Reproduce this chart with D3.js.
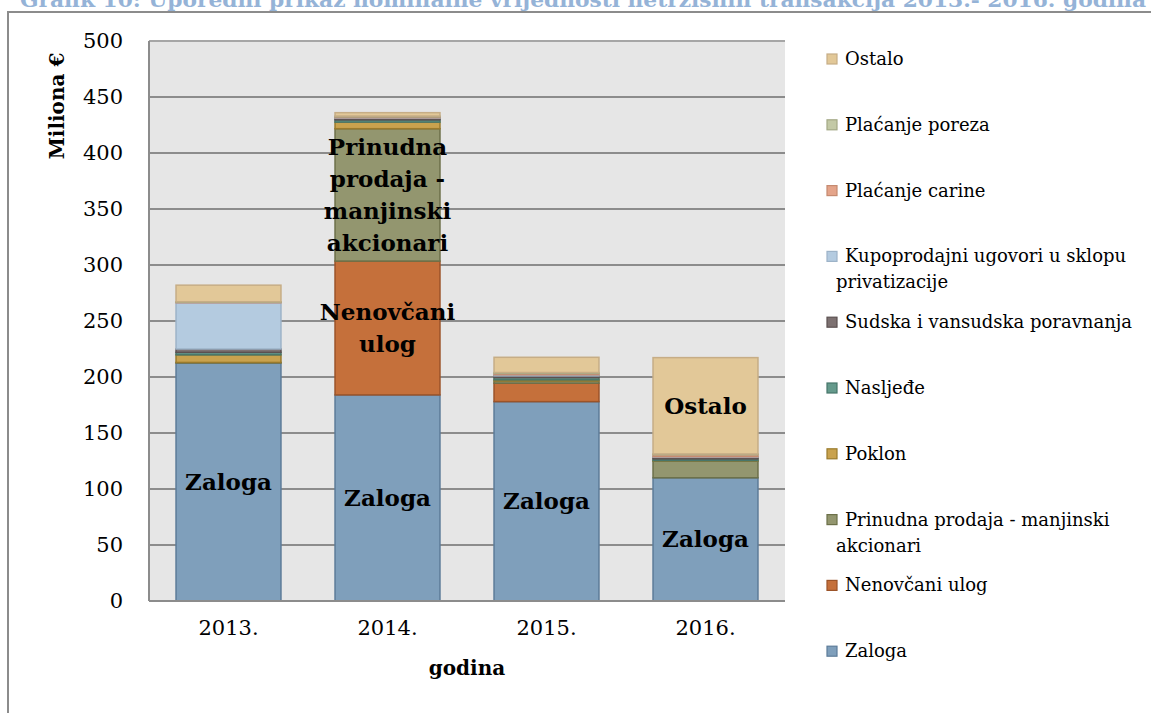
<!DOCTYPE html>
<html>
<head>
<meta charset="utf-8">
<script src="https://cdn.jsdelivr.net/npm/d3@7"></script>
<style>
  body { margin: 0; background: #fff; }
  svg { display: block; font-family: "DejaVu Serif", serif; }
</style>
</head>
<body>
<div id="chartContainer"></div>
<script>
// values in millions of euro
var years = ["2013.", "2014.", "2015.", "2016."];
var zaloga       = [212.5, 184, 178, 110];
var nenovcani    = [0, 119.5, 16.5, 0];
var prinudna     = [0.5, 118.2, 2, 14.8];
var poklon       = [6.8, 5.9, 1, 0.5];
var nasljedje    = [2.2, 2, 2, 1.6];
var sudska       = [3, 1.5, 1.5, 1.5];
var kupoprodajni = [41.3, 0.4, 1, 0.4];
var carine       = [0.5, 0.8, 1.2, 1.8];
var poreza       = [0.4, 0.7, 0.8, 0.7];
var ostalo       = [14.8, 3, 13.6, 86];

var seriesNames = ["Zaloga", "Nenovčani ulog", "Prinudna prodaja - manjinski akcionari", "Poklon",
  "Nasljeđe", "Sudska i vansudska poravnanja", "Kupoprodajni ugovori u sklopu privatizacije",
  "Plaćanje carine", "Plaćanje poreza", "Ostalo"];
var seriesValues = [zaloga, nenovcani, prinudna, poklon, nasljedje, sudska, kupoprodajni, carine, poreza, ostalo];
var legendLines = [["Zaloga"], ["Nenovčani ulog"], ["Prinudna prodaja - manjinski", "akcionari"], ["Poklon"],
  ["Nasljeđe"], ["Sudska i vansudska poravnanja"], ["Kupoprodajni ugovori u sklopu", "privatizacije"],
  ["Plaćanje carine"], ["Plaćanje poreza"], ["Ostalo"]];
var fills   = ["#7f9fbb", "#c5703b", "#93966f", "#c9a24e", "#659a8c", "#7d7171", "#b4cbe0", "#e4a48a", "#c3c9a6", "#e2c898"];
var strokes = ["#5d7c99", "#9b5328", "#6c7049", "#9a7a2c", "#47766a", "#5b5050", "#9db3c8", "#c58a70", "#a3a985", "#c6ad86"];
var yTicks = [0, 50, 100, 150, 200, 250, 300, 350, 400, 450, 500];

// labels written inside the bars
var barLabels = [
  { year: "2013.", key: "Zaloga", lines: ["Zaloga"] },
  { year: "2014.", key: "Zaloga", lines: ["Zaloga"] },
  { year: "2014.", key: "Nenovčani ulog", lines: ["Nenovčani", "ulog"] },
  { year: "2014.", key: "Prinudna prodaja - manjinski akcionari", lines: ["Prinudna", "prodaja -", "manjinski", "akcionari"] },
  { year: "2015.", key: "Zaloga", lines: ["Zaloga"] },
  { year: "2016.", key: "Zaloga", lines: ["Zaloga"] },
  { year: "2016.", key: "Ostalo", lines: ["Ostalo"] }
];

var title = "Grafik 10: Uporedni prikaz nominalne vrijednosti netržišnih transakcija 2013.- 2016. godina";

var WIDTH = 1151, HEIGHT = 713,
  MARGINS = { top: 41, left: 149, right: 366, bottom: 112 };

var svg = d3.select("#chartContainer").append("svg")
  .attr("width", WIDTH)
  .attr("height", HEIGHT);

svg.append("rect").attr("width", WIDTH).attr("height", HEIGHT).attr("fill", "#fff");

// title, cut off at the top of the page as in the source document
svg.append("text")
  .attr("x", 20).attr("y", 7)
  .attr("textLength", 1126)
  .attr("lengthAdjust", "spacingAndGlyphs")
  .style("font-weight", "bold")
  .style("font-size", "20px")
  .style("fill", "#95b3d7")
  .text(title);

// outer frame
svg.append("path")
  .attr("d", "M8," + HEIGHT + "V12H" + WIDTH)
  .attr("fill", "none")
  .attr("stroke", "#8c8c8c")
  .attr("stroke-width", 2);

var rows = years.map(function (y, i) {
  var r = { year: y };
  seriesNames.forEach(function (n, j) { r[n] = seriesValues[j][i]; });
  return r;
});

var xRange = d3.scaleBand().domain(years)
  .range([MARGINS.left, WIDTH - MARGINS.right])
  .paddingInner(0.34).paddingOuter(0.17);
var yRange = d3.scaleLinear().domain([0, 500])
  .range([HEIGHT - MARGINS.bottom, MARGINS.top]);

// plot area
svg.append("rect")
  .attr("x", MARGINS.left).attr("y", yRange(500))
  .attr("width", WIDTH - MARGINS.right - MARGINS.left)
  .attr("height", yRange(0) - yRange(500))
  .attr("fill", "#e6e6e6");

svg.append("g").selectAll("line").data(yTicks.slice(1)).enter().append("line")
  .attr("x1", MARGINS.left).attr("x2", WIDTH - MARGINS.right)
  .attr("y1", function (d) { return yRange(d); })
  .attr("y2", function (d) { return yRange(d); })
  .attr("stroke", function (d) { return d === 500 ? "#a6a6a6" : "#8c8c8c"; })
  .attr("stroke-width", 2);

var stack = d3.stack().keys(seriesNames)(rows);

svg.append("g").selectAll("g").data(stack).enter().append("g")
  .attr("fill", function (d, i) { return fills[i]; })
  .attr("stroke", function (d, i) { return strokes[i]; })
  .attr("stroke-width", 1.5)
  .selectAll("rect").data(function (d) { return d.filter(function (p) { return p[1] > p[0]; }); })
  .enter().append("rect")
  .attr("x", function (d) { return xRange(d.data.year); })
  .attr("width", xRange.bandwidth())
  .attr("y", function (d) { return yRange(d[1]); })
  .attr("height", function (d) { return yRange(d[0]) - yRange(d[1]); });

// axes lines
svg.append("line")
  .attr("x1", MARGINS.left).attr("x2", MARGINS.left)
  .attr("y1", yRange(500)).attr("y2", yRange(0))
  .attr("stroke", "#8c8c8c").attr("stroke-width", 2);
svg.append("line")
  .attr("x1", MARGINS.left).attr("x2", WIDTH - MARGINS.right)
  .attr("y1", yRange(0)).attr("y2", yRange(0))
  .attr("stroke", "#8c8c8c").attr("stroke-width", 2);

// y tick labels
var yAxis = d3.axisLeft(yRange).tickValues(yTicks).tickSize(0).tickPadding(26);
var yg = svg.append("g").attr("transform", "translate(" + MARGINS.left + ",0)").call(yAxis);
yg.select(".domain").remove();
yg.selectAll("text").style("font-family", "DejaVu Serif").style("font-size", "21px").style("fill", "#000");

// x tick labels
var xAxis = d3.axisBottom(xRange).tickSize(0).tickPadding(19);
var xg = svg.append("g").attr("transform", "translate(0," + yRange(0) + ")").call(xAxis);
xg.select(".domain").remove();
xg.selectAll("text").style("font-family", "DejaVu Serif").style("font-size", "21px").style("fill", "#000");

svg.append("text")
  .attr("transform", "translate(64," + 106 + ") rotate(-90)")
  .attr("text-anchor", "middle")
  .style("font-weight", "bold").style("font-size", "20px")
  .text("Miliona €");

svg.append("text")
  .attr("x", (MARGINS.left + WIDTH - MARGINS.right) / 2).attr("y", 675)
  .attr("text-anchor", "middle")
  .style("font-weight", "bold").style("font-size", "20px")
  .text("godina");

// labels inside segments
barLabels.forEach(function (l) {
  var s = stack[seriesNames.indexOf(l.key)];
  var p = s[years.indexOf(l.year)];
  var cy = yRange((p[0] + p[1]) / 2);
  var lh = 32;
  var t = svg.append("text")
    .attr("text-anchor", "middle")
    .style("font-weight", "bold").style("font-size", "23px");
  l.lines.forEach(function (line, k) {
    t.append("tspan")
      .attr("x", xRange(l.year) + xRange.bandwidth() / 2)
      .attr("y", cy + (k - (l.lines.length - 1) / 2) * lh + 8)
      .text(line);
  });
});

// legend, top entry is the last series
var legend = svg.append("g");
var order = d3.range(seriesNames.length).reverse();
order.forEach(function (si, i) {
  var cy = 59 + i * 65.8;
  legend.append("rect")
    .attr("x", 827).attr("y", cy - 5)
    .attr("width", 10).attr("height", 10)
    .attr("fill", fills[si]).attr("stroke", strokes[si]).attr("stroke-width", 1.2);
  legendLines[si].forEach(function (line, k) {
    legend.append("text")
      .attr("x", k === 0 ? 845 : 836)
      .attr("y", cy + 6 + k * 26)
      .style("font-size", "18px")
      .text(line);
  });
});
</script>
</body>
</html>
